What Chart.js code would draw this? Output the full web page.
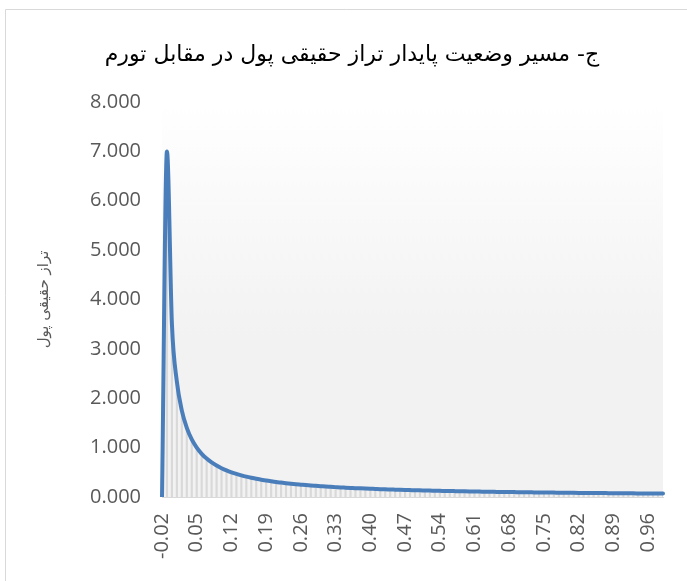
<!DOCTYPE html>
<html>
<head>
<meta charset="utf-8">
<script src="https://cdn.jsdelivr.net/npm/chart.js@4/dist/chart.umd.min.js"></script>
<style>
html,body{margin:0;padding:0;background:#fff;}
#wrap{width:687px;height:581px;position:relative;}
</style>
</head>
<body>
<div id="wrap"><canvas id="c" width="687" height="581"></canvas></div>
<script>
const inflation = [
"-0.02","-0.01","0.00","0.01","0.02","0.03","0.04","0.05","0.06","0.07","0.08","0.09",
"0.10","0.11","0.12","0.13","0.14","0.15","0.16","0.17","0.18","0.19",
"0.20","0.21","0.22","0.23","0.24","0.25","0.26","0.27","0.28","0.29",
"0.30","0.31","0.32","0.33","0.34","0.35","0.36","0.37","0.38","0.39",
"0.40","0.41","0.42","0.43","0.44","0.45","0.46","0.47","0.48","0.49",
"0.50","0.51","0.52","0.53","0.54","0.55","0.56","0.57","0.58","0.59",
"0.60","0.61","0.62","0.63","0.64","0.65","0.66","0.67","0.68","0.69",
"0.70","0.71","0.72","0.73","0.74","0.75","0.76","0.77","0.78","0.79",
"0.80","0.81","0.82","0.83","0.84","0.85","0.86","0.87","0.88","0.89",
"0.90","0.91","0.92","0.93","0.94","0.95","0.96","0.97","0.98","0.99"];

const realMoney = [
0.000,7.000,3.500,2.333,1.750,1.400,1.167,1.000,0.875,0.778,0.700,0.636,
0.583,0.538,0.500,0.467,0.438,0.412,0.389,0.368,0.350,0.333,
0.318,0.304,0.292,0.280,0.269,0.259,0.250,0.241,0.233,0.226,
0.219,0.212,0.206,0.200,0.194,0.189,0.184,0.179,0.175,0.171,
0.167,0.163,0.159,0.156,0.152,0.149,0.146,0.143,0.140,0.137,
0.135,0.132,0.130,0.127,0.125,0.123,0.121,0.119,0.117,0.115,
0.113,0.111,0.109,0.108,0.106,0.104,0.103,0.101,0.100,0.099,
0.097,0.096,0.095,0.093,0.092,0.091,0.090,0.089,0.088,0.086,
0.085,0.084,0.083,0.082,0.081,0.080,0.080,0.079,0.078,0.077,
0.076,0.075,0.074,0.074,0.073,0.072,0.071,0.071,0.070,0.070];

const yTicks = [0,1,2,3,4,5,6,7,8];
const titleText = "ج- مسیر وضعیت پایدار تراز حقیقی پول در مقابل تورم";
const yTitleText = "تراز حقیقی پول";

const bgPlugin = {
  id: 'bg',
  beforeDraw(chart) {
    const ctx = chart.ctx;
    ctx.save();
    ctx.strokeStyle = '#d9d9d9';
    ctx.lineWidth = 1;
    ctx.beginPath();
    ctx.moveTo(5.5, 590);
    ctx.lineTo(5.5, 9.5);
    ctx.lineTo(700, 9.5);
    ctx.stroke();
    const a = chart.chartArea;
    const g = ctx.createLinearGradient(0, a.top, 0, a.bottom);
    g.addColorStop(0, '#ffffff');
    g.addColorStop(0.6, '#f2f2f2');
    g.addColorStop(1, '#f2f2f2');
    ctx.fillStyle = g;
    ctx.fillRect(a.left, a.top, a.right - a.left, a.bottom - a.top);
    ctx.restore();
  },
  afterDraw(chart) {
    const ctx = chart.ctx;
    ctx.save();
    ctx.fillStyle = '#000000';
    ctx.font = '22px "DejaVu Sans"';
    ctx.textAlign = 'center';
    ctx.textBaseline = 'middle';
    ctx.direction = 'rtl';
    ctx.fillText(titleText, 352, 55);
    ctx.restore();
  }
};

new Chart(document.getElementById('c'), {
  data: {
    labels: inflation,
    datasets: [
      {
        type: 'line',
        data: realMoney,
        borderColor: '#4a7ebb',
        borderWidth: 4,
        pointRadius: 0,
        cubicInterpolationMode: 'monotone',
        borderCapStyle: 'round',
        borderJoinStyle: 'round',
        order: 0
      },
      {
        type: 'bar',
        data: realMoney,
        backgroundColor: '#d9d9d9',
        barThickness: 1.5,
        order: 1
      }
    ]
  },
  options: {
    responsive: false,
    animation: false,
    events: [],
    layout: { padding: { left: 0, right: 24, top: 102, bottom: 0 } },
    plugins: {
      legend: { display: false },
      tooltip: { enabled: false },
      title: { display: false }
    },
    scales: {
      x: {
        type: 'category',
        offset: false,
        grid: { display: false, drawTicks: false },
        border: { display: true, color: '#d9d9d9', width: 1 },
        ticks: {
          autoSkip: false,
          maxRotation: 90,
          minRotation: 90,
          padding: 16,
          color: '#595959',
          font: { family: 'Open Sans', size: 20 },
          callback: function(v, i) { return i % 7 === 0 ? inflation[i] : ''; }
        },
        afterFit(s) { s.height = 84; s.paddingLeft = 0; s.paddingRight = 0; }
      },
      y: {
        min: 0, max: 8,
        afterBuildTicks(s) { s.ticks = yTicks.map(v => ({ value: v })); },
        grid: { display: false, drawTicks: false },
        border: { display: false },
        ticks: {
          padding: 21,
          color: '#595959',
          font: { family: 'Open Sans', size: 20 },
          callback: v => Number(v).toFixed(3)
        },
        title: {
          display: true,
          text: yTitleText,
          color: '#595959',
          font: { family: 'DejaVu Sans', size: 15 },
          padding: { top: 35, bottom: 0 }
        },
        afterFit(s) { s.width = 162; s.paddingTop = 0; s.paddingBottom = 0; }
      }
    }
  },
  plugins: [bgPlugin]
});
</script>
</body>
</html>
